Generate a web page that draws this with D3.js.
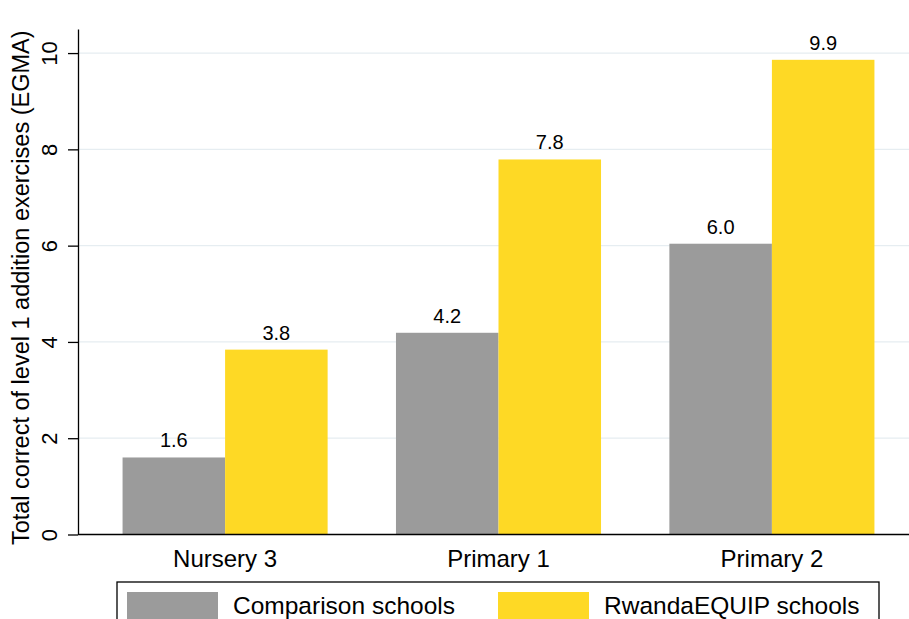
<!DOCTYPE html>
<html><head><meta charset="utf-8">
<script src="https://cdn.jsdelivr.net/npm/d3@7"></script>
<style>
html,body{margin:0;padding:0;background:#fff;}
svg{display:block;font-family:"Liberation Sans",Arial,Helvetica,sans-serif;}
</style></head>
<body>
<svg id="chart" width="909" height="619"></svg>
<script>
const categories = ["Nursery 3", "Primary 1", "Primary 2"];
const seriesNames = ["Comparison schools", "RwandaEQUIP schools"];
const comparisonValues = [1.60, 4.19, 6.04];
const equipValues = [3.84, 7.79, 9.86];
const yTicks = [0, 2, 4, 6, 8, 10];
const yTitle = "Total correct of level 1 addition exercises (EGMA)";
const colors = ["#9b9b9b", "#fed925"];

const series = [comparisonValues, equipValues];
const svg = d3.select("#chart");

const x0 = d3.scaleBand().domain(categories).range([78, 919]).paddingInner(0.25).paddingOuter(0.163);
const x1 = d3.scaleBand().domain(seriesNames).range([0, x0.bandwidth()]).padding(0);
const y = d3.scaleLinear().domain([0, 10.5]).range([534.5, 29]);

// gridlines
svg.append("g").selectAll("line").data(yTicks.filter(d => d > 0)).join("line")
  .attr("x1", 78).attr("x2", 909)
  .attr("y1", d => y(d)).attr("y2", d => y(d))
  .attr("stroke", "#e6edf1").attr("stroke-width", 1.3);

// bars
const groups = svg.append("g").selectAll("g").data(categories).join("g")
  .attr("transform", c => `translate(${x0(c)},0)`);
groups.selectAll("rect").data((c, i) => seriesNames.map((s, j) => ({s, v: series[j][i], j}))).join("rect")
  .attr("x", d => x1(d.s)).attr("width", x1.bandwidth())
  .attr("y", d => y(d.v)).attr("height", d => y(0) - y(d.v))
  .attr("fill", d => colors[d.j]);
groups.selectAll("text").data((c, i) => seriesNames.map((s, j) => ({s, v: series[j][i], j}))).join("text")
  .attr("x", d => x1(d.s) + x1.bandwidth() / 2)
  .attr("y", d => y(d.v) - 10)
  .attr("text-anchor", "middle")
  .attr("font-size", "20px").attr("fill", "#000")
  .text(d => d3.format(".1f")(d.v));

// y axis
const yAxis = svg.append("g").attr("transform", "translate(78,0)")
  .call(d3.axisLeft(y).tickValues(yTicks).tickSize(10).tickSizeOuter(0).tickFormat(d3.format("d")));
yAxis.select(".domain").attr("stroke", "#000").attr("stroke-width", 1.3);
yAxis.selectAll(".tick line").attr("stroke", "#000").attr("stroke-width", 1.3);
yAxis.selectAll(".tick text")
  .attr("x", 0).attr("y", 0).attr("dy", null)
  .attr("transform", "translate(-21,0) rotate(-90)")
  .attr("text-anchor", "middle")
  .attr("font-size", "22px").attr("fill", "#000")
  .attr("font-family", "Liberation Sans, Arial, sans-serif");

// x axis
svg.append("line").attr("x1", 78).attr("x2", 909).attr("y1", y(0)).attr("y2", y(0))
  .attr("stroke", "#000").attr("stroke-width", 1.3);
svg.append("g").selectAll("text").data(categories).join("text")
  .attr("x", c => x0(c) + x0.bandwidth() / 2).attr("y", 567)
  .attr("text-anchor", "middle").attr("font-size", "24px").attr("fill", "#000")
  .text(c => c);

// y title
svg.append("text")
  .attr("transform", `translate(29,${(29 + 534.5) / 2 + 6}) rotate(-90)`)
  .attr("text-anchor", "middle").attr("font-size", "23.5px").attr("fill", "#000")
  .text(yTitle);

// legend
const leg = svg.append("g");
leg.append("rect").attr("x", 117).attr("y", 582).attr("width", 762).attr("height", 60)
  .attr("fill", "#fff").attr("stroke", "#000").attr("stroke-width", 1.3);
const legX = [127, 498];
seriesNames.forEach((s, j) => {
  leg.append("rect").attr("x", legX[j]).attr("y", 592).attr("width", 91).attr("height", 40).attr("fill", colors[j]);
  leg.append("text").attr("x", legX[j] + 106).attr("y", 614).attr("font-size", "24.5px").attr("fill", "#000").text(s);
});
</script>
</body></html>
